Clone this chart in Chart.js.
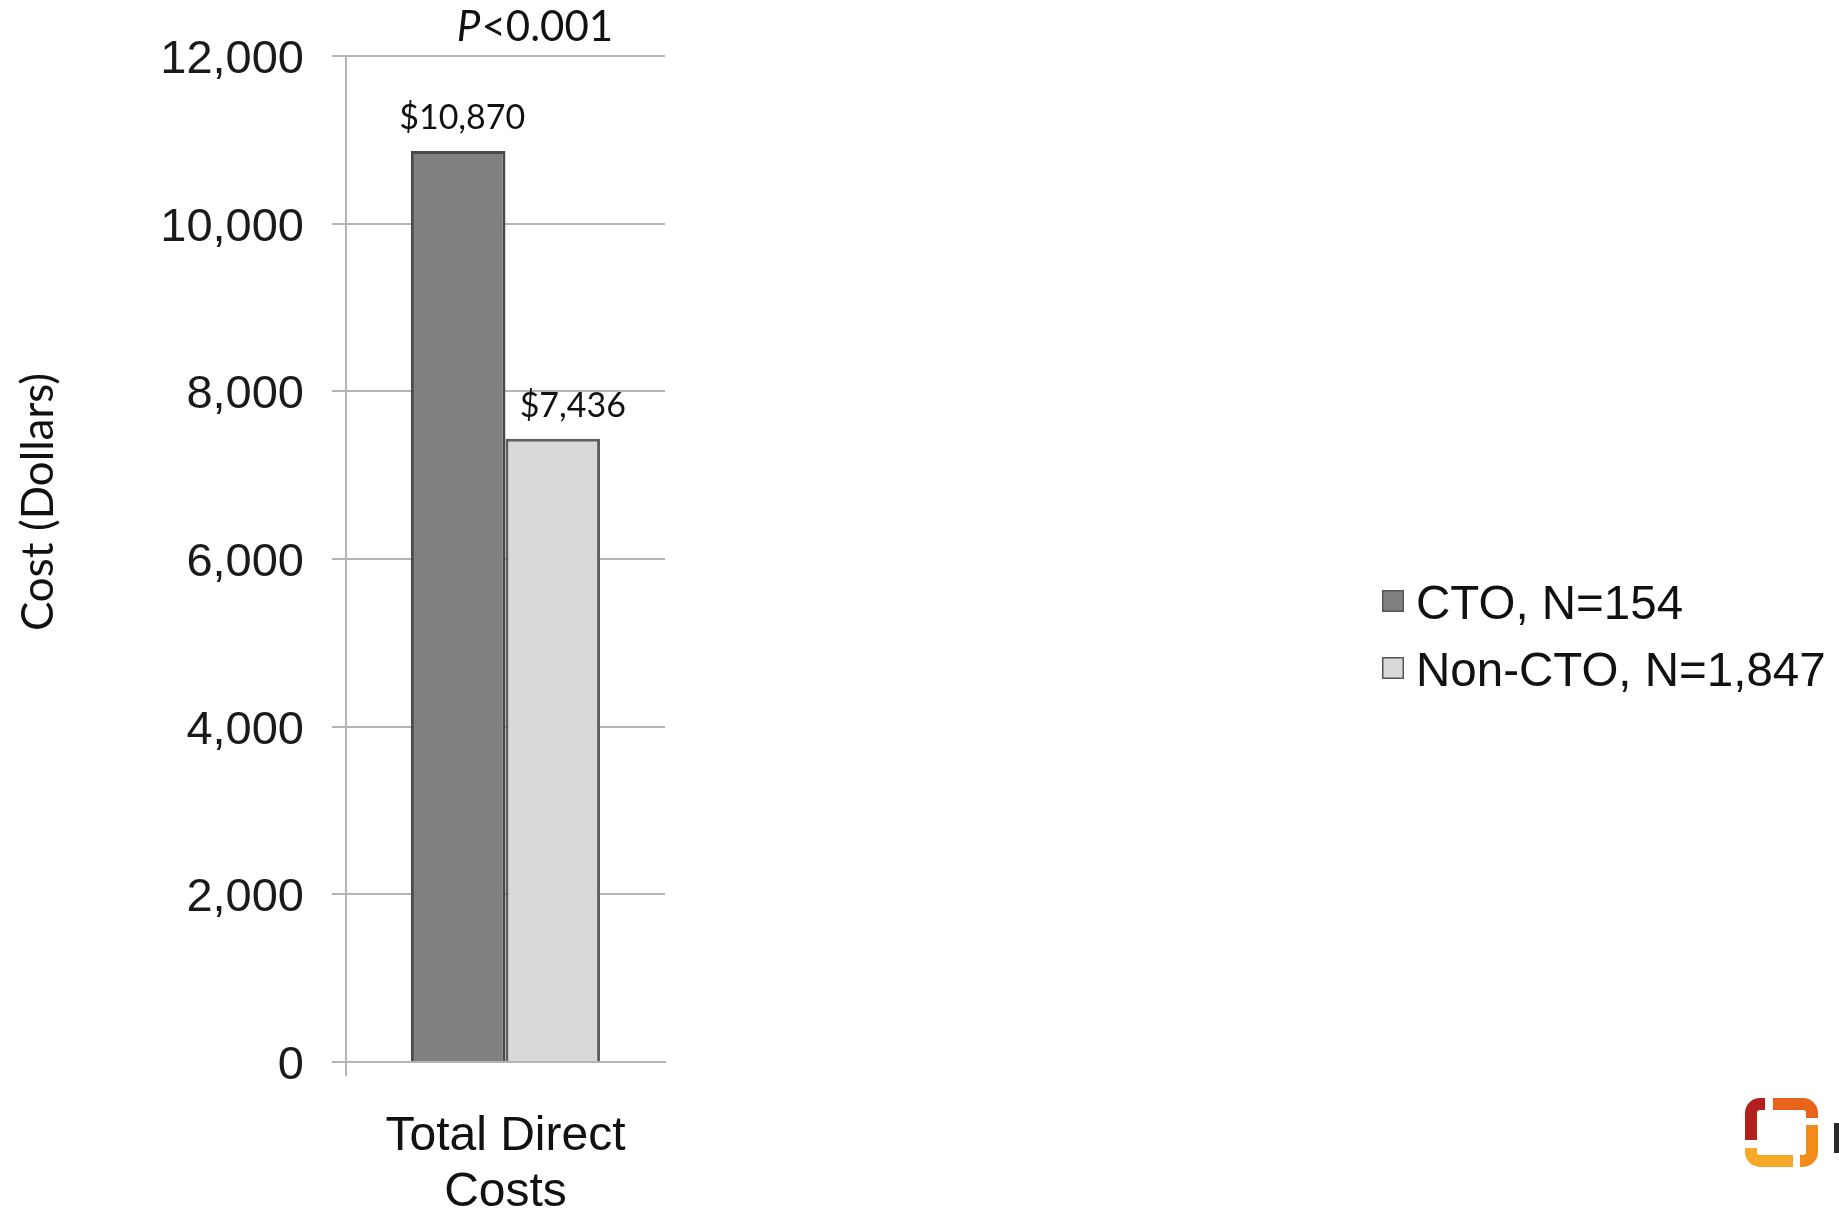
<!DOCTYPE html>
<html>
<head>
<meta charset="utf-8">
<title>Total Direct Costs</title>
<script src="https://cdn.jsdelivr.net/npm/chart.js@4/dist/chart.umd.min.js"></script>
<style>
  html, body { margin: 0; padding: 0; background: #ffffff; }
  #wrap { width: 1839px; height: 1213px; position: relative; }
  canvas { display: block; }
</style>
</head>
<body>
<div id="wrap"><canvas id="costChart" width="1839" height="1213"></canvas></div>
<script>
// Chart data
const categories = [['Total Direct', 'Costs']];
const seriesNames = ['CTO, N=154', 'Non-CTO, N=1,847'];
const ctoCosts = [10870];
const nonCtoCosts = [7436];
const yTickValues = [0, 2000, 4000, 6000, 8000, 10000, 12000];
const yAxisTitle = 'Cost (Dollars)';
const pValueLabel = ['P', '<0.001'];

const seriesFill = ['#808080', '#d9d9d9'];
const seriesBorder = ['#4a4a4a', '#5e5e5e'];
const gridGray = '#b4b4b4';

const SANS = '"Liberation Sans", Arial, sans-serif';
const HUMANIST = 'Lato, "Open Sans", sans-serif';

// Dollar labels above each bar, taken from the bar's own value
const valueLabels = {
  id: 'valueLabels',
  afterDatasetsDraw(chart) {
    const ctx = chart.ctx;
    ctx.save();
    ctx.font = '34px ' + HUMANIST;
    ctx.fillStyle = '#111111';
    ctx.textAlign = 'center';
    ctx.textBaseline = 'alphabetic';
    chart.data.datasets.forEach((ds, i) => {
      const meta = chart.getDatasetMeta(i);
      meta.data.forEach((bar, j) => {
        const v = ds.data[j];
        ctx.fillText('$' + v.toLocaleString('en-US'), bar.x + (i === 1 ? 20 : 4), bar.y - 22);
      });
    });
    ctx.restore();
  }
};

// Axis title, significance note, legend and corner mark
const annotations = {
  id: 'annotations',
  afterDraw(chart) {
    const ctx = chart.ctx;
    const area = chart.chartArea;
    ctx.save();

    // Y axis title
    ctx.save();
    ctx.translate(39, 502);
    ctx.rotate(-Math.PI / 2);
    ctx.font = '44px ' + HUMANIST;
    ctx.fillStyle = '#111111';
    ctx.textAlign = 'center';
    ctx.textBaseline = 'middle';
    ctx.fillText(yAxisTitle, 0, 0);
    ctx.restore();

    // P-value
    ctx.fillStyle = '#111111';
    ctx.textBaseline = 'middle';
    ctx.textAlign = 'left';
    const italic = 'italic 42px ' + HUMANIST;
    const upright = '42px ' + HUMANIST;
    ctx.font = italic;
    const w1 = ctx.measureText(pValueLabel[0]).width;
    ctx.font = upright;
    const w2 = ctx.measureText(pValueLabel[1]).width;
    const cx = (area.left + area.right) / 2 + 29;
    const startX = cx - (w1 + w2) / 2;
    ctx.font = italic;
    ctx.fillText(pValueLabel[0], startX, 27);
    ctx.font = upright;
    ctx.fillText(pValueLabel[1], startX + w1 + 1, 27);

    // Legend
    const lx = 1382, ly = [603, 670], box = 22;
    ctx.font = '47.5px ' + SANS;
    chart.data.datasets.forEach((ds, i) => {
      ctx.fillStyle = ds.backgroundColor;
      ctx.fillRect(lx, ly[i] - box / 2 - 2, box, box);
      ctx.strokeStyle = '#555555';
      ctx.lineWidth = 1.5;
      ctx.strokeRect(lx + 0.75, ly[i] - box / 2 - 2 + 0.75, box - 1.5, box - 1.5);
      ctx.fillStyle = '#111111';
      ctx.fillText(ds.label, lx + box + 12, ly[i] + 3);
    });

    // Corner mark
    ctx.lineCap = 'butt';
    ctx.lineJoin = 'round';
    ctx.lineWidth = 12;
    const L = 1751, R = 1812, T = 1104, B = 1161, r = 9;
    ctx.strokeStyle = '#b3211e';
    ctx.beginPath();
    ctx.moveTo(L, 1140);
    ctx.lineTo(L, T + r);
    ctx.arcTo(L, T, L + r, T, r);
    ctx.lineTo(1765, T);
    ctx.stroke();
    ctx.strokeStyle = '#e8641a';
    ctx.beginPath();
    ctx.moveTo(1773, T);
    ctx.lineTo(R - r, T);
    ctx.arcTo(R, T, R, T + r, r);
    ctx.lineTo(R, 1118);
    ctx.stroke();
    ctx.strokeStyle = '#f38b1c';
    ctx.beginPath();
    ctx.moveTo(R, 1125);
    ctx.lineTo(R, B - r);
    ctx.arcTo(R, B, R - r, B, r);
    ctx.lineTo(1800, B);
    ctx.stroke();
    ctx.strokeStyle = '#f6a928';
    ctx.beginPath();
    ctx.moveTo(1793, B);
    ctx.lineTo(L + r, B);
    ctx.arcTo(L, B, L, B - r, r);
    ctx.lineTo(L, 1148);
    ctx.stroke();
    ctx.fillStyle = '#2a2a2a';
    ctx.fillRect(1834, 1123, 5, 30);

    ctx.restore();
  }
};

new Chart(document.getElementById('costChart'), {
  type: 'bar',
  data: {
    labels: categories,
    datasets: [
      {
        label: seriesNames[0],
        data: ctoCosts,
        backgroundColor: seriesFill[0],
        borderColor: seriesBorder[0],
        borderWidth: 3,
        categoryPercentage: 0.593,
        barPercentage: 1.0
      },
      {
        label: seriesNames[1],
        data: nonCtoCosts,
        backgroundColor: seriesFill[1],
        borderColor: seriesBorder[1],
        borderWidth: 3,
        categoryPercentage: 0.593,
        barPercentage: 1.0
      }
    ]
  },
  options: {
    responsive: false,
    animation: false,
    devicePixelRatio: 1,
    layout: { padding: { top: 56, right: 1174, bottom: 0, left: 0 } },
    plugins: {
      legend: { display: false },
      tooltip: { enabled: false }
    },
    scales: {
      x: {
        grid: {
          display: true,
          drawOnChartArea: false,
          drawTicks: true,
          tickLength: 14,
          lineWidth: 2,
          color: (c) => (c.index === 0 ? gridGray : 'rgba(0,0,0,0)')
        },
        border: { display: true, color: gridGray, width: 2 },
        ticks: {
          font: { family: SANS, size: 48, lineHeight: 1.17 },
          color: '#111111',
          padding: 33,
          maxRotation: 0
        },
        afterFit(scale) { scale.height = 151; }
      },
      y: {
        min: 0,
        max: 12000,
        afterBuildTicks(scale) {
          scale.ticks = yTickValues.map(v => ({ value: v }));
        },
        grid: {
          color: gridGray,
          lineWidth: 2,
          drawTicks: true,
          tickLength: 14
        },
        border: { display: true, color: gridGray, width: 2 },
        ticks: {
          font: { family: SANS, size: 47 },
          color: '#1a1a1a',
          padding: 28,
          labelOffset: 4,
          callback: (v) => Number(v).toLocaleString('en-US')
        },
        title: { display: false },
        afterFit(scale) { scale.width = 346; }
      }
    }
  },
  plugins: [valueLabels, annotations]
});
</script>
</body>
</html>
